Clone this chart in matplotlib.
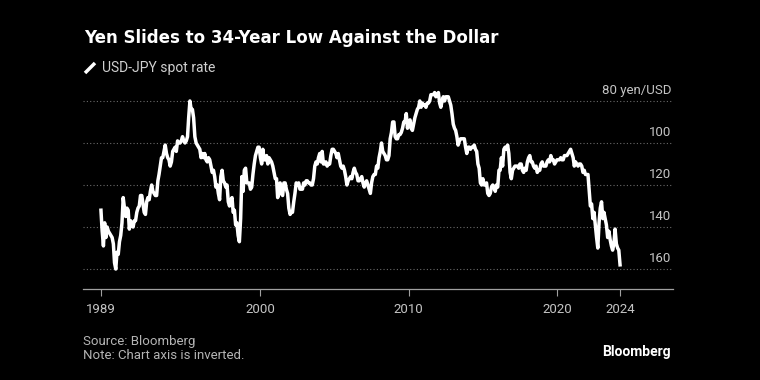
import numpy as np
import pandas as pd
import matplotlib

matplotlib.use("Agg")
import matplotlib.pyplot as plt
from matplotlib.lines import Line2D

# USD-JPY spot rate, monthly, Apr 1989 - Apr 2024 (yen per dollar)
usd_jpy = [
    132, 142, 149, 138, 145, 140, 142, 143, 144,  # 1989 (Apr-Dec)
    145, 148, 157, 160, 152, 153, 147, 144, 138, 126, 131, 135,  # 1990
    131, 132, 141, 137, 139, 140, 137, 137, 133, 131, 130, 125,  # 1991
    125, 129, 133, 134, 128, 126, 127, 123, 120, 123, 124, 125,  # 1992
    125, 118, 115, 111, 107, 107, 104, 101, 105, 107, 108, 111,  # 1993
    109, 104, 103, 102, 104, 99, 100, 100, 99, 97, 99, 100,  # 1994
    99, 97, 88, 80, 84, 84, 88, 97, 100, 101, 102, 103,  # 1995
    107, 105, 107, 105, 108, 109, 107, 108, 111, 114, 113, 116,  # 1996
    121, 120, 124, 127, 116, 113, 118, 119, 121, 120, 128, 130,  # 1997
    127, 126, 133, 132, 139, 138, 144, 147, 136, 116, 123, 113,  # 1998
    112, 119, 119, 119, 122, 121, 115, 110, 106, 104, 102, 102,  # 1999
    107, 110, 103, 108, 108, 106, 110, 107, 108, 109, 111, 114,  # 2000
    117, 117, 126, 124, 119, 124, 125, 119, 119, 122, 124, 131,  # 2001
    134, 133, 133, 128, 124, 119, 120, 119, 122, 122, 122, 119,  # 2002
    120, 118, 118, 119, 119, 120, 120, 117, 111, 109, 110, 107,  # 2003
    105, 109, 104, 110, 110, 109, 111, 110, 110, 106, 103, 103,  # 2004
    104, 105, 107, 105, 108, 111, 112, 111, 113, 116, 120, 118,  # 2005
    117, 116, 117, 114, 112, 114, 115, 118, 118, 117, 116, 119,  # 2006
    121, 119, 118, 120, 122, 124, 119, 116, 115, 115, 111, 112,  # 2007
    107, 104, 100, 104, 105, 106, 108, 108, 106, 98, 95, 90,  # 2008
    90, 97, 98, 98, 96, 96, 95, 93, 90, 90, 86, 93,  # 2009
    90, 89, 93, 94, 91, 88, 86, 84, 83, 80, 83, 81,  # 2010
    82, 82, 83, 81, 81, 80, 77, 77, 77, 76, 78, 77,  # 2011
    76, 81, 83, 80, 78, 80, 78, 78, 78, 80, 82, 86,  # 2012
    91, 93, 94, 97, 101, 99, 98, 98, 98, 98, 102, 105,  # 2013
    102, 102, 103, 102, 102, 101, 103, 104, 110, 112, 119, 120,  # 2014
    117, 120, 120, 119, 124, 125, 124, 121, 120, 121, 123, 120,  # 2015
    121, 113, 113, 107, 111, 103, 102, 103, 101, 105, 114, 117,  # 2016
    113, 112, 111, 111, 111, 112, 110, 110, 113, 114, 112, 113,  # 2017
    109, 107, 106, 109, 109, 111, 112, 111, 114, 113, 113, 110,  # 2018
    109, 111, 111, 111, 109, 108, 109, 106, 108, 108, 110, 109,  # 2019
    108, 108, 108, 107, 108, 108, 106, 106, 106, 105, 104, 103,  # 2020
    105, 107, 111, 109, 110, 111, 110, 110, 111, 114, 113, 115,  # 2021
    115, 115, 122, 130, 129, 136, 133, 139, 145, 150, 138, 131,  # 2022
    128, 136, 133, 136, 139, 145, 142, 146, 149, 151, 148, 141,  # 2023
    148, 150, 151, 158,  # 2024 (Jan-Apr)
]
dates = pd.date_range("1989-04-01", periods=len(usd_jpy), freq="MS")

x_tick_dates = pd.to_datetime(["1989-04-01", "2000-01-01", "2010-01-01", "2020-01-01", "2024-04-01"])
x_tick_labels = ["1989", "2000", "2010", "2020", "2024"]
y_ticks = [80, 100, 120, 140, 160]
y_tick_labels = ["80 yen/USD", "100", "120", "140", "160"]

plt.rcParams["font.family"] = ["Roboto", "DejaVu Sans"]

fig = plt.figure(figsize=(7.6, 3.8), dpi=100, facecolor="black")
ax = fig.add_axes([83 / 760, 91 / 380, 590 / 760, 204 / 380], facecolor="black")

ax.plot(dates, usd_jpy, color="white", lw=2.5, solid_joinstyle="round")

ax.set_xlim(pd.Timestamp("1988-01-15"), pd.Timestamp("2027-10-27"))
ax.set_ylim(169.5, 72.4)  # inverted axis

ax.set_yticks(y_ticks)
ax.tick_params(axis="y", length=0, labelleft=False, labelright=False)
ax.grid(axis="y", color="#6a6a6a", lw=0.8, linestyle=(0, (1, 2)))
ax.set_axisbelow(True)
for v, lab in zip(y_ticks, y_tick_labels):
    ax.annotate(lab, xy=(0.997, v), xycoords=("axes fraction", "data"),
                xytext=(0, 5), textcoords="offset points",
                ha="right", va="baseline", color="#c4c4c4", fontsize=9.5)

ax.set_xticks(x_tick_dates)
ax.set_xticklabels(x_tick_labels)
ax.tick_params(axis="x", direction="out", length=5, width=0.8, color="#a0a0a0",
               labelcolor="#c4c4c4", labelsize=9.5, pad=5)

for s in ["top", "left", "right"]:
    ax.spines[s].set_visible(False)
ax.spines["bottom"].set_color("#a0a0a0")
ax.spines["bottom"].set_linewidth(0.9)

fig.text(84 / 760, 1 - 43 / 380, "Yen Slides to 34-Year Low Against the Dollar",
         color="white", fontsize=12, fontweight="bold", va="baseline",
         family=["DejaVu Sans"])
fig.add_artist(Line2D([85 / 760, 95 / 760], [1 - 73 / 380, 1 - 63 / 380],
                      color="white", lw=2.5, solid_capstyle="butt"))
fig.text(102 / 760, 1 - 72 / 380, "USD-JPY spot rate",
         color="#d0d0d0", fontsize=10, va="baseline")

fig.text(83 / 760, 1 - 345 / 380, "Source: Bloomberg",
         color="#b4b4b4", fontsize=9.5, va="baseline")
fig.text(83 / 760, 1 - 359 / 380, "Note: Chart axis is inverted.",
         color="#b4b4b4", fontsize=9.5, va="baseline")
fig.text(671 / 760, 1 - 356 / 380, "Bloomberg",
         color="white", fontsize=10, fontweight="bold", ha="right", va="baseline")

fig.savefig("out.png", dpi=100, facecolor="black")
